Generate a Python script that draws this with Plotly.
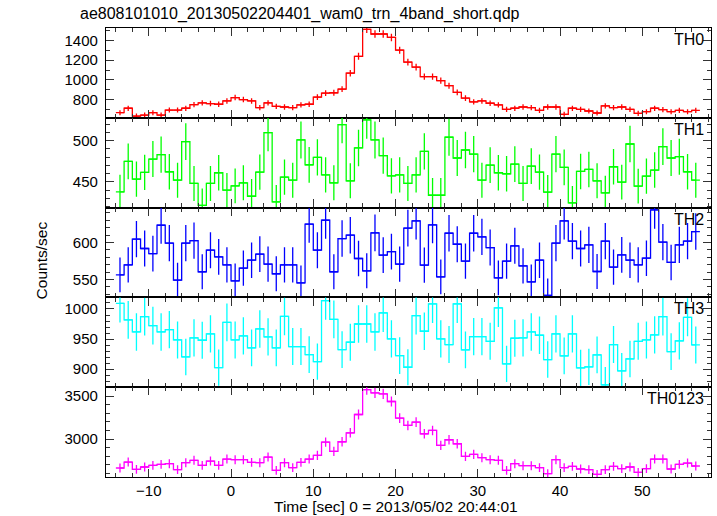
import numpy as np
import plotly.graph_objects as go
from plotly.subplots import make_subplots

# bin centers: 1-s bins from -14 to 57
time = [t + 0.5 for t in range(-14, 57)]

th0 = [666, 711, 632, 642, 666, 642, 693, 693, 711, 748, 766, 759, 752, 786, 820, 800,
       786, 718, 766, 731, 724, 718, 745, 752, 824, 865, 869, 906, 1068, 1240, 1515, 1467,
       1467, 1432, 1302, 1181, 1130, 1034, 1034, 992, 941, 872, 814, 776, 786, 762, 745,
       700, 711, 724, 718, 690, 724, 724, 649, 711, 700, 683, 663, 735, 718, 724, 700,
       659, 676, 711, 697, 676, 690, 676, 690]

th1 = [437.8, 474.8, 453.3, 461.4, 477.6, 482.9, 462.2, 452.0, 498.8, 448.0, 421.5, 448.0,
       461.0, 439.8, 445.1, 448.8, 432.5, 461.8, 509.8, 425.6, 455.7, 452.0, 500.8, 470.7,
       479.7, 458.5, 448.8, 519.5, 451.2, 491.1, 525.2, 500.8, 481.7, 457.3, 458.5, 448.0,
       458.5, 487.0, 433.7, 433.7, 504.1, 478.9, 488.6, 483.7, 452.0, 470.3, 461.0, 459.8,
       471.5, 448.0, 469.1, 461.8, 437.4, 483.7, 467.5, 424.4, 462.6, 465.0, 451.2, 436.6,
       468.3, 449.6, 495.9, 444.7, 456.9, 464.2, 492.7, 478.9, 480.5, 462.2, 452.0]

th2 = [556.3, 569.8, 604.5, 591.9, 585.1, 623.4, 599.1, 549.1, 599.1, 602.7, 560.4, 589.6,
       580.6, 569.8, 548.2, 565.3, 576.1, 584.2, 570.7, 557.7, 569.8, 569.8, 545.5, 624.8,
       589.6, 630.2, 560.4, 605.4, 609.9, 578.4, 561.7, 613.1, 582.9, 587.8, 570.7, 619.4,
       629.3, 569.4, 623.9, 553.6, 612.6, 597.7, 574.8, 612.6, 607.7, 593.2, 552.2, 574.8,
       595.5, 568.5, 546.8, 576.1, 528.4, 599.1, 629.3, 601.8, 591.9, 596.8, 560.8, 601.8,
       566.7, 583.3, 576.1, 569.8, 578.8, 644.1, 600.5, 573.0, 596.8, 601.8, 614.9]

th3 = [1009.4, 981.8, 961.9, 987.3, 972.4, 961.9, 965.7, 948.6, 920.4, 951.9, 948.1, 958.6,
       902.8, 977.9, 948.6, 955.2, 935.4, 966.9, 953.6, 935.4, 987.8, 937.6, 937.6, 924.3,
       912.7, 1013.8, 982.9, 932.6, 944.8, 975.1, 975.1, 961.9, 993.4, 950.3, 922.6, 903.3,
       989.0, 963.0, 1008.3, 950.3, 940.9, 1008.3, 932.0, 954.1, 954.1, 946.4, 1001.7, 908.8,
       951.4, 951.9, 961.9, 956.4, 916.0, 958.6, 922.1, 958.6, 902.2, 903.9, 923.8, 874.0,
       940.9, 897.2, 917.1, 946.4, 948.6, 956.9, 987.3, 929.3, 947.0, 986.2, 940.3]

th0123 = [2662.8, 2732.5, 2647.3, 2674.4, 2693.8, 2705.4, 2713.2, 2643.4, 2724.8, 2751.9,
          2693.8, 2744.2, 2693.8, 2767.4, 2759.7, 2759.7, 2728.7, 2724.8, 2790.7, 2635.7,
          2724.8, 2666.7, 2728.7, 2767.4, 2810.1, 2965.1, 2856.6, 2969.0, 3073.6, 3286.8,
          3577.5, 3538.8, 3527.1, 3438.0, 3244.2, 3158.9, 3197.7, 3062.0, 3100.8, 2926.4,
          2992.2, 2945.7, 2798.4, 2821.7, 2782.9, 2759.7, 2751.9, 2635.7, 2713.2, 2689.9,
          2689.9, 2666.7, 2596.9, 2759.7, 2666.7, 2682.2, 2651.2, 2643.4, 2589.1, 2643.4,
          2682.2, 2655.0, 2674.4, 2612.4, 2655.0, 2767.4, 2767.4, 2651.2, 2705.4, 2720.9,
          2686.1]

names = ["TH0", "TH1", "TH2", "TH3", "TH0123"]
series = [th0, th1, th2, th3, th0123]
colors = ["#ff0000", "#00ff00", "#0000ff", "#00ffff", "#ff00ff"]
yranges = [[614, 1528], [418.7, 527.7], [525.7, 647.3], [870.2, 1019.2], [2558, 3605]]
ydticks = [200, 50, 50, 50, 500]
yminor = [100, 10, 10, 10, 100]

FONT = "Liberation Sans, Arial, Helvetica, sans-serif"

fig = make_subplots(rows=5, cols=1, shared_xaxes=True, vertical_spacing=0)

for i, (nm, vals, col) in enumerate(zip(names, series, colors)):
    v = np.array(vals, dtype=float)
    err = np.sqrt(v)
    fig.add_trace(go.Scatter(
        x=time, y=vals, mode="lines", line=dict(color=col, width=1.3, shape="hvh"),
        error_y=dict(type="data", array=err, visible=True, color=col, thickness=1.3, width=0),
        error_x=dict(type="constant", value=0.5, visible=True, color=col, thickness=1.3, width=0),
        showlegend=False, hoverinfo="skip"), row=i + 1, col=1)
    fig.update_yaxes(range=yranges[i], dtick=ydticks[i], row=i + 1, col=1,
                     minor=dict(dtick=yminor[i], ticks="inside", ticklen=4, tickcolor="#333"))
    sfx = "" if i == 0 else str(i + 1)
    fig.add_annotation(text=nm, xref=f"x{sfx} domain", yref=f"y{sfx} domain",
                       x=0.992, y=1.0, yshift=-1, xanchor="right", yanchor="top",
                       showarrow=False, font=dict(family=FONT, size=16, color="black"))

fig.update_xaxes(range=[-15.2, 58.35], dtick=10, tick0=0, ticks="inside", ticklen=8,
                 tickcolor="#333", showline=True, linecolor="black", linewidth=1.3,
                 mirror="ticks", showgrid=False, zeroline=False, automargin=False,
                 minor=dict(dtick=2, ticks="inside", ticklen=4, tickcolor="#333"),
                 tickfont=dict(family=FONT, size=15, color="black"))
fig.update_yaxes(ticks="inside", ticklen=8, tickcolor="#333", showline=True,
                 linecolor="black", linewidth=1.3, mirror="ticks", showgrid=False,
                 zeroline=False, ticklabelstandoff=4, automargin=False,
                 tickfont=dict(family=FONT, size=15, color="black"))

fig.add_annotation(text="Time [sec] 0 = 2013/05/02 20:44:01", xref="paper", yref="paper",
                   x=0.480, y=-0.066, xanchor="center", yanchor="middle", showarrow=False,
                   font=dict(family=FONT, size=15.5, color="black"))
fig.add_annotation(text="Counts/sec", xref="paper", yref="paper", x=-0.107, y=0.483,
                   textangle=-90, showarrow=False, xanchor="center", yanchor="middle",
                   font=dict(family=FONT, size=15.5, color="black"))

fig.update_layout(
    width=717, height=516, margin=dict(l=106, r=6, t=28, b=39, autoexpand=False),
    paper_bgcolor="white", plot_bgcolor="white",
    title=dict(text="ae808101010_20130502204401_wam0_trn_4band_short.qdp",
               xref="container", yref="container", x=80 / 717, y=1 - 13 / 516,
               xanchor="left", yanchor="middle",
               font=dict(family=FONT, size=16, color="black")),
)

fig.write_html("out.html", config={"displayModeBar": False},
               post_script="document.body.style.margin='0';document.body.style.overflow='hidden';")
